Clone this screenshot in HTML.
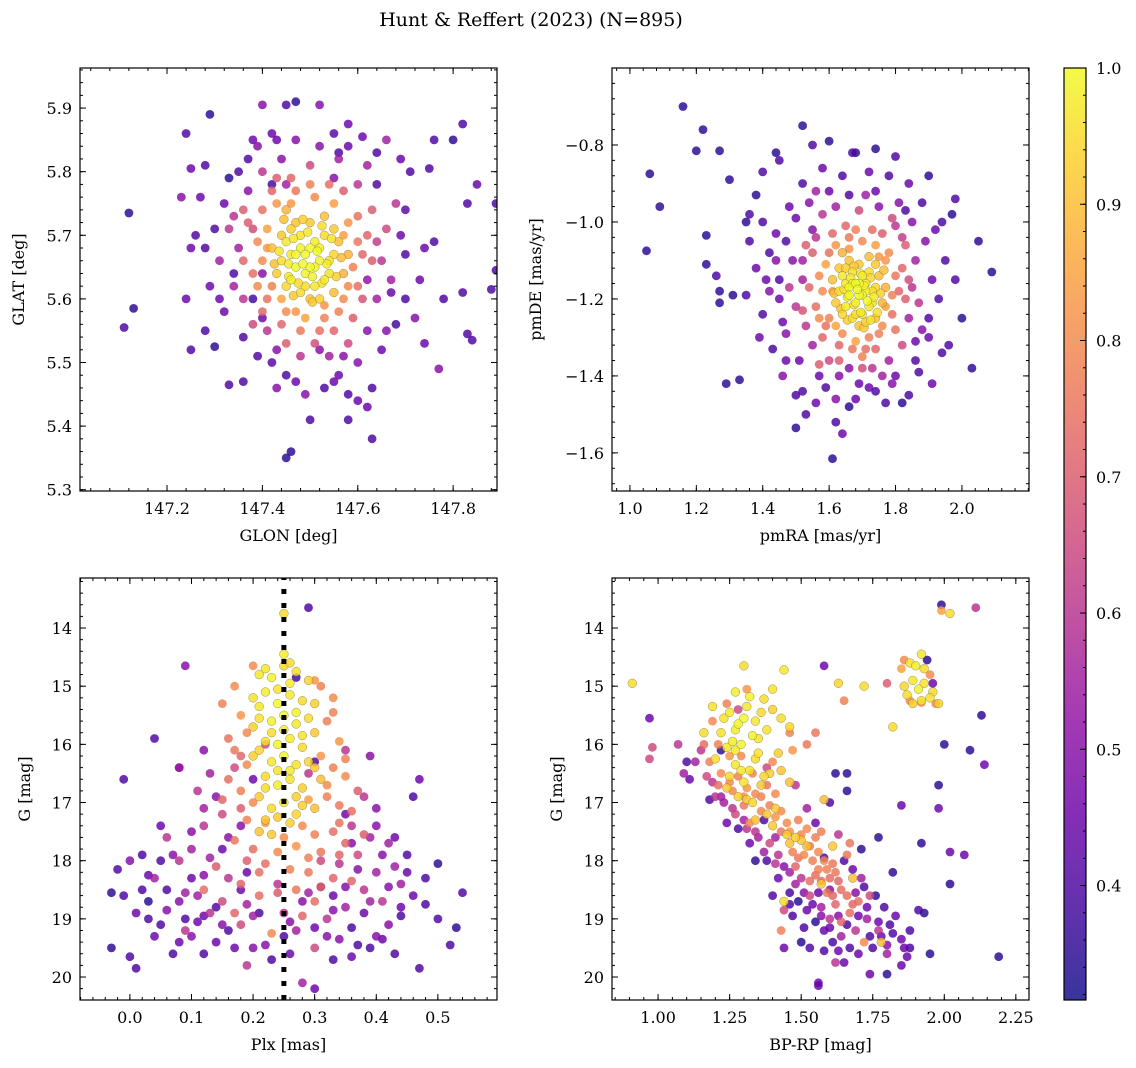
<!DOCTYPE html>
<html><head><meta charset="utf-8"><style>
html,body{margin:0;padding:0;background:#fff;}
svg{display:block;font-family:"DejaVu Serif","Liberation Serif",serif;}
</style></head><body>
<svg id="fig" width="1136" height="1068" viewBox="0 0 1136 1068" xmlns="http://www.w3.org/2000/svg">
<text x="531" y="26" font-size="19" text-anchor="middle">Hunt &amp; Reffert (2023) (N=895)</text>
</svg>
<script>
// ---------- data ----------
const p1Outer=[[147.12,5.735,0.35],[147.13,5.585,0.35],[147.11,5.555,0.4],[147.24,5.86,0.4],[147.25,5.805,0.45],[147.28,5.81,0.4],[147.29,5.89,0.35],[147.23,5.76,0.5],[147.26,5.70,0.4],[147.25,5.68,0.45],[147.24,5.60,0.45],[147.25,5.52,0.4],[147.28,5.55,0.4],[147.30,5.525,0.35],[147.33,5.465,0.4],[147.30,5.71,0.4],[147.33,5.79,0.35],[147.40,5.905,0.5],[147.45,5.905,0.4],[147.47,5.91,0.35],[147.52,5.905,0.5],[147.43,5.85,0.45],[147.38,5.85,0.45],[147.58,5.875,0.45],[147.61,5.855,0.45],[147.56,5.83,0.4],[147.66,5.85,0.55],[147.69,5.82,0.45],[147.75,5.805,0.4],[147.76,5.85,0.4],[147.82,5.875,0.4],[147.80,5.85,0.35],[147.83,5.75,0.4],[147.89,5.75,0.4],[147.85,5.78,0.45],[147.89,5.645,0.4],[147.88,5.615,0.4],[147.82,5.61,0.4],[147.83,5.545,0.4],[147.84,5.535,0.4],[147.78,5.60,0.4],[147.76,5.69,0.4],[147.74,5.68,0.45],[147.77,5.49,0.5],[147.74,5.53,0.45],[147.70,5.67,0.4],[147.72,5.57,0.5],[147.67,5.61,0.45],[147.65,5.52,0.45],[147.63,5.46,0.4],[147.62,5.43,0.45],[147.63,5.38,0.4],[147.58,5.41,0.4],[147.56,5.48,0.45],[147.50,5.41,0.4],[147.46,5.36,0.35],[147.45,5.35,0.35],[147.43,5.46,0.5],[147.45,5.48,0.4],[147.36,5.54,0.4],[147.40,5.57,0.45],[147.52,5.52,0.5],[147.55,5.47,0.45],[147.60,5.50,0.5],[147.34,5.64,0.4],[147.32,5.75,0.45],[147.37,5.82,0.4],[147.42,5.78,0.38],[147.55,5.86,0.42],[147.64,5.78,0.4],[147.70,5.74,0.42],[147.68,5.56,0.38],[147.58,5.45,0.4],[147.42,5.50,0.42],[147.38,5.60,0.38],[147.29,5.62,0.45]];
const p1Mid=[[147.35,5.68,0.55],[147.36,5.60,0.6],[147.37,5.77,0.5],[147.40,5.80,0.6],[147.44,5.82,0.5],[147.50,5.81,0.65],[147.56,5.82,0.55],[147.60,5.78,0.6],[147.63,5.74,0.7],[147.65,5.66,0.6],[147.64,5.60,0.55],[147.62,5.55,0.5],[147.58,5.53,0.65],[147.54,5.51,0.55],[147.48,5.51,0.6],[147.43,5.52,0.5],[147.38,5.56,0.65],[147.34,5.62,0.55],[147.33,5.71,0.6],[147.36,5.74,0.7],[147.66,5.71,0.65],[147.67,5.63,0.55],[147.45,5.53,0.7],[147.52,5.84,0.5],[147.41,5.55,0.6],[147.59,5.57,0.7],[147.62,5.81,0.55],[147.39,5.84,0.5],[147.31,5.66,0.55],[147.68,5.75,0.6]];
const p1Ring=[[147.40,5.66,0.8],[147.41,5.71,0.85],[147.42,5.62,0.78],[147.43,5.75,0.82],[147.45,5.58,0.8],[147.47,5.77,0.76],[147.49,5.57,0.85],[147.51,5.76,0.8],[147.53,5.57,0.78],[147.55,5.75,0.84],[147.57,5.60,0.8],[147.58,5.72,0.82],[147.59,5.65,0.78],[147.60,5.69,0.76],[147.39,5.69,0.8],[147.41,5.60,0.75],[147.44,5.56,0.72],[147.48,5.55,0.76],[147.52,5.55,0.74],[147.56,5.58,0.78],[147.60,5.62,0.74],[147.61,5.67,0.72],[147.38,5.64,0.74],[147.46,5.79,0.72],[147.54,5.78,0.74],[147.57,5.77,0.7],[147.42,5.77,0.72],[147.62,5.70,0.72],[147.37,5.72,0.7],[147.40,5.58,0.72]];
const p1Core=[[147.44,5.66,0.95],[147.45,5.69,0.97],[147.46,5.63,0.98],[147.47,5.67,1.0],[147.48,5.70,0.96],[147.49,5.64,0.99],[147.50,5.68,1.0],[147.51,5.62,0.97],[147.52,5.66,0.99],[147.53,5.70,0.95],[147.54,5.64,0.96],[147.55,5.67,0.94],[147.46,5.71,0.93],[147.48,5.61,0.95],[147.50,5.72,0.92],[147.52,5.60,0.93],[147.43,5.64,0.92],[147.56,5.69,0.9],[147.47,5.65,1.0],[147.49,5.67,1.0],[147.51,5.69,0.98],[147.53,5.63,0.97],[147.45,5.62,0.94],[147.55,5.71,0.92],[147.50,5.65,1.0],[147.48,5.68,0.99],[147.52,5.68,0.98],[147.46,5.67,0.97],[147.54,5.66,0.96],[147.49,5.62,0.95],[147.51,5.65,0.99],[147.47,5.72,0.91],[147.53,5.73,0.9],[147.44,5.70,0.92],[147.57,5.64,0.88],[147.50,5.60,0.9],[147.45,5.74,0.88],[147.55,5.61,0.9],[147.42,5.68,0.9],[147.58,5.67,0.88]];
const p1CoreExtra=[[147.435,5.675,0.96],[147.455,5.655,0.98],[147.465,5.695,0.97],[147.475,5.625,0.95],[147.485,5.655,1.0],[147.495,5.705,0.97],[147.505,5.635,0.99],[147.515,5.675,1.0],[147.525,5.715,0.95],[147.535,5.655,0.98],[147.545,5.695,0.96],[147.555,5.635,0.93],[147.465,5.605,0.92],[147.505,5.595,0.92],[147.445,5.725,0.9],[147.525,5.625,0.96],[147.485,5.725,0.93],[147.425,5.655,0.9],[147.565,5.665,0.9],[147.455,5.635,0.97]];
const p1RingExtra=[[147.39,5.62,0.8],[147.40,5.74,0.75],[147.43,5.79,0.7],[147.47,5.58,0.82],[147.50,5.78,0.78],[147.55,5.55,0.72],[147.58,5.62,0.8],[147.60,5.73,0.75],[147.63,5.66,0.7],[147.36,5.66,0.72],[147.44,5.60,0.85],[147.57,5.70,0.84],[147.41,5.68,0.83],[147.53,5.59,0.82],[147.46,5.75,0.83],[147.61,5.60,0.68],[147.38,5.71,0.66],[147.51,5.53,0.66],[147.34,5.73,0.6],[147.64,5.69,0.62]];
const p1OuterExtra=[[147.32,5.58,0.45],[147.35,5.80,0.4],[147.42,5.86,0.45],[147.47,5.85,0.5],[147.58,5.84,0.45],[147.64,5.83,0.4],[147.69,5.70,0.45],[147.70,5.60,0.4],[147.66,5.55,0.5],[147.60,5.44,0.45],[147.53,5.46,0.4],[147.47,5.47,0.45],[147.39,5.51,0.4],[147.31,5.60,0.45],[147.28,5.68,0.4],[147.27,5.76,0.45],[147.71,5.80,0.4],[147.73,5.63,0.45],[147.36,5.47,0.4],[147.49,5.45,0.5],[147.55,5.79,0.5],[147.45,5.78,0.55],[147.62,5.63,0.52],[147.40,5.64,0.5],[147.57,5.51,0.5]];

const p2Outer=[[1.16,-0.70,0.35],[1.06,-0.875,0.35],[1.09,-0.96,0.35],[1.05,-1.075,0.35],[1.20,-0.815,0.35],[1.22,-0.76,0.35],[1.27,-0.815,0.35],[1.30,-0.89,0.35],[1.23,-1.035,0.35],[1.23,-1.11,0.35],[1.26,-1.14,0.4],[1.27,-1.18,0.35],[1.27,-1.21,0.35],[1.29,-1.42,0.35],[1.33,-1.41,0.35],[1.31,-1.19,0.35],[1.35,-1.19,0.4],[1.35,-1.0,0.35],[1.36,-0.98,0.4],[1.38,-0.93,0.35],[1.40,-0.87,0.4],[1.44,-0.82,0.35],[1.45,-0.84,0.4],[1.52,-0.75,0.35],[1.55,-0.80,0.4],[1.60,-0.79,0.35],[1.67,-0.82,0.4],[1.68,-0.82,0.35],[1.74,-0.81,0.35],[1.80,-0.83,0.4],[1.90,-0.88,0.35],[1.98,-0.94,0.4],[2.05,-1.05,0.35],[2.09,-1.13,0.35],[2.03,-1.38,0.35],[1.94,-1.34,0.4],[1.61,-1.615,0.35],[1.50,-1.535,0.35],[1.52,-1.44,0.4],[1.66,-1.48,0.35],[1.77,-1.47,0.4],[1.82,-1.47,0.35],[1.72,-1.43,0.45],[1.57,-1.40,0.45]];
const p2Scatter=[[1.42,-1.08,0.4],[1.44,-1.03,0.45],[1.45,-1.15,0.4],[1.46,-1.26,0.45],[1.43,-1.33,0.4],[1.47,-1.36,0.45],[1.50,-1.45,0.4],[1.56,-1.47,0.45],[1.62,-1.52,0.4],[1.68,-1.46,0.45],[1.74,-1.44,0.4],[1.80,-1.40,0.45],[1.86,-1.36,0.4],[1.90,-1.30,0.45],[1.93,-1.20,0.4],[1.95,-1.10,0.4],[1.92,-1.02,0.45],[1.88,-0.95,0.4],[1.84,-0.90,0.45],[1.78,-0.88,0.4],[1.72,-0.87,0.45],[1.64,-0.88,0.4],[1.58,-0.86,0.45],[1.52,-0.90,0.4],[1.48,-0.96,0.45],[1.40,-1.00,0.4],[1.38,-1.12,0.45],[1.40,-1.24,0.4],[1.39,-1.30,0.45],[1.98,-1.15,0.4],[2.00,-1.25,0.35],[1.96,-1.32,0.4],[1.91,-1.42,0.45],[1.84,-1.45,0.4],[1.64,-1.55,0.45],[1.53,-1.50,0.4],[1.46,-1.40,0.5],[1.42,-1.18,0.5],[1.36,-1.05,0.4],[1.97,-0.98,0.35]];
const p2Mid=[[1.52,-1.15,0.55],[1.53,-1.27,0.6],[1.55,-1.02,0.5],[1.58,-0.98,0.6],[1.62,-0.96,0.55],[1.69,-0.97,0.65],[1.75,-0.96,0.5],[1.80,-1.01,0.6],[1.83,-1.06,0.7],[1.85,-1.17,0.6],[1.84,-1.25,0.55],[1.82,-1.32,0.65],[1.78,-1.36,0.55],[1.73,-1.38,0.6],[1.66,-1.38,0.5],[1.60,-1.36,0.65],[1.55,-1.32,0.55],[1.50,-1.22,0.6],[1.49,-1.10,0.5],[1.53,-1.06,0.7],[1.86,-1.10,0.55],[1.87,-1.21,0.6],[1.63,-1.40,0.5],[1.71,-0.93,0.55],[1.57,-1.37,0.7],[1.79,-0.99,0.65],[1.81,-0.95,0.5],[1.56,-0.92,0.55],[1.48,-1.17,0.6],[1.88,-1.28,0.5]];
const p2Ring=[[1.58,-1.18,0.8],[1.59,-1.11,0.85],[1.60,-1.25,0.78],[1.62,-1.06,0.82],[1.64,-1.29,0.8],[1.66,-1.04,0.76],[1.68,-1.31,0.85],[1.70,-1.05,0.8],[1.72,-1.30,0.78],[1.74,-1.06,0.84],[1.76,-1.27,0.8],[1.77,-1.10,0.82],[1.79,-1.19,0.78],[1.80,-1.14,0.76],[1.57,-1.14,0.8],[1.59,-1.27,0.75],[1.63,-1.32,0.72],[1.67,-1.33,0.76],[1.71,-1.33,0.74],[1.75,-1.29,0.78],[1.79,-1.24,0.74],[1.81,-1.18,0.72],[1.56,-1.22,0.74],[1.65,-1.01,0.72],[1.73,-1.02,0.74],[1.76,-1.03,0.7],[1.61,-1.03,0.72],[1.82,-1.12,0.72],[1.55,-1.08,0.7],[1.58,-1.30,0.72]];
const p2Core=[[1.63,-1.18,0.95],[1.64,-1.14,0.97],[1.65,-1.22,0.98],[1.66,-1.17,1.0],[1.67,-1.13,0.96],[1.68,-1.21,0.99],[1.69,-1.16,1.0],[1.70,-1.24,0.97],[1.71,-1.18,0.99],[1.72,-1.13,0.95],[1.73,-1.21,0.96],[1.74,-1.17,0.94],[1.65,-1.12,0.93],[1.67,-1.25,0.95],[1.69,-1.11,0.92],[1.71,-1.26,0.93],[1.62,-1.21,0.92],[1.75,-1.14,0.9],[1.66,-1.19,1.0],[1.68,-1.16,1.0],[1.70,-1.14,0.98],[1.72,-1.22,0.97],[1.64,-1.24,0.94],[1.74,-1.11,0.92],[1.69,-1.19,1.0],[1.67,-1.16,0.99],[1.71,-1.16,0.98],[1.65,-1.16,0.97],[1.73,-1.18,0.96],[1.68,-1.24,0.95],[1.70,-1.19,0.99],[1.66,-1.10,0.91],[1.72,-1.09,0.9],[1.63,-1.12,0.92],[1.76,-1.21,0.88],[1.69,-1.27,0.9],[1.64,-1.08,0.88],[1.74,-1.25,0.9],[1.61,-1.15,0.9],[1.77,-1.17,0.88]];
const p2CoreExtra=[[1.645,-1.175,0.96],[1.655,-1.195,0.98],[1.665,-1.145,0.97],[1.675,-1.215,0.95],[1.685,-1.175,1.0],[1.695,-1.235,0.97],[1.705,-1.165,0.99],[1.715,-1.205,1.0],[1.725,-1.145,0.95],[1.735,-1.195,0.98],[1.745,-1.235,0.96],[1.755,-1.185,0.93],[1.675,-1.115,0.92],[1.705,-1.275,0.92],[1.635,-1.225,0.9],[1.725,-1.255,0.96],[1.655,-1.255,0.93],[1.765,-1.125,0.9],[1.615,-1.185,0.9],[1.695,-1.135,0.97]];
const p2RingExtra=[[1.57,-1.25,0.8],[1.60,-1.08,0.75],[1.63,-1.36,0.7],[1.66,-1.07,0.82],[1.70,-1.35,0.78],[1.74,-1.33,0.72],[1.78,-1.08,0.8],[1.80,-1.28,0.75],[1.83,-1.20,0.7],[1.54,-1.17,0.72],[1.62,-1.27,0.85],[1.77,-1.22,0.84],[1.61,-1.18,0.83],[1.75,-1.09,0.82],[1.68,-1.02,0.78],[1.52,-1.23,0.68],[1.84,-1.15,0.66],[1.70,-1.38,0.66],[1.56,-1.04,0.6],[1.82,-1.04,0.62]];
const p2OuterExtra=[[1.45,-1.20,0.45],[1.47,-1.05,0.4],[1.50,-0.99,0.45],[1.54,-0.95,0.5],[1.60,-0.92,0.45],[1.66,-0.93,0.4],[1.74,-0.92,0.45],[1.83,-0.97,0.4],[1.89,-1.05,0.5],[1.91,-1.15,0.45],[1.90,-1.25,0.4],[1.86,-1.31,0.45],[1.79,-1.42,0.5],[1.69,-1.42,0.45],[1.59,-1.43,0.4],[1.51,-1.36,0.45],[1.47,-1.29,0.5],[1.94,-1.00,0.4],[1.44,-1.10,0.5],[1.87,-1.39,0.4],[1.62,-1.46,0.5],[1.76,-1.40,0.55],[1.52,-1.10,0.55],[1.85,-1.00,0.5],[1.41,-1.15,0.45]];

const p3Purple=[[-0.01,16.6,0.4],[0.09,14.65,0.5],[0.29,13.65,0.4],[0.27,14.85,0.38],[0.04,15.9,0.4],[0.08,16.4,0.45],[0.12,16.1,0.5],[0.46,16.9,0.4],[0.47,16.6,0.45],[0.39,16.2,0.5],[0.05,17.4,0.45],[0.02,17.9,0.4],[0.00,18.0,0.5],[-0.02,18.15,0.4],[-0.03,18.55,0.35],[-0.01,18.6,0.4],[0.01,18.9,0.45],[0.03,18.7,0.35],[0.05,19.1,0.4],[-0.03,19.5,0.35],[0.0,19.65,0.4],[0.01,19.85,0.4],[0.04,19.3,0.45],[0.07,19.6,0.4],[0.10,19.3,0.5],[0.12,19.6,0.4],[0.14,19.4,0.45],[0.16,19.2,0.4],[0.20,19.5,0.5],[0.23,19.7,0.4],[0.26,19.6,0.45],[0.30,20.2,0.45],[0.33,19.7,0.4],[0.36,19.65,0.45],[0.40,19.3,0.5],[0.43,19.6,0.4],[0.47,19.85,0.4],[0.52,19.45,0.4],[0.53,19.15,0.35],[0.54,18.55,0.4],[0.50,18.05,0.35],[0.48,18.3,0.4],[0.46,18.6,0.45],[0.44,18.95,0.4],[0.42,19.1,0.5],[0.45,17.9,0.4],[0.43,17.6,0.45],[0.41,17.9,0.5],[0.38,18.9,0.45],[0.36,19.15,0.4],[0.34,19.35,0.5],[0.30,19.15,0.45],[0.28,18.7,0.5],[0.18,18.5,0.45],[0.14,18.8,0.4],[0.10,18.3,0.45],[0.08,18.7,0.5],[0.06,18.5,0.4],[0.03,18.25,0.45],[0.07,17.9,0.5],[0.19,18.2,0.45],[0.21,18.9,0.4],[0.33,18.6,0.45],[0.37,18.15,0.5],[0.15,17.8,0.45],[0.18,17.4,0.5],[0.35,17.2,0.45],[0.40,17.1,0.5],[0.30,16.3,0.4],[0.20,16.6,0.45],[0.14,16.9,0.5],[0.44,18.8,0.45],[0.09,19.0,0.4],[0.12,18.95,0.45],[0.39,19.5,0.4],[0.31,18.45,0.45],[0.25,19.3,0.4],[0.05,18.0,0.4]];
const p3Pink=[[0.11,16.8,0.6],[0.13,16.5,0.55],[0.15,17.2,0.65],[0.12,17.4,0.6],[0.10,17.8,0.55],[0.08,18.0,0.6],[0.14,18.1,0.7],[0.16,18.3,0.6],[0.11,18.6,0.55],[0.13,18.9,0.6],[0.18,19.1,0.65],[0.20,18.95,0.55],[0.25,18.9,0.6],[0.27,19.2,0.55],[0.32,19.0,0.6],[0.35,18.8,0.55],[0.38,18.5,0.6],[0.40,18.2,0.55],[0.37,17.9,0.65],[0.34,18.05,0.6],[0.39,17.6,0.55],[0.36,17.4,0.6],[0.42,17.7,0.55],[0.41,18.7,0.6],[0.44,18.4,0.55],[0.06,17.6,0.6],[0.04,18.3,0.55],[0.09,19.2,0.6],[0.30,19.5,0.65],[0.19,19.8,0.6],[0.28,20.1,0.55],[0.17,16.4,0.65],[0.35,16.1,0.6],[0.29,16.5,0.6],[0.22,16.0,0.65],[0.38,16.9,0.6],[0.15,18.7,0.65],[0.24,18.4,0.6],[0.31,18.0,0.65],[0.08,16.4,0.55]];
const p3Orange=[[0.20,14.65,0.8],[0.30,14.9,0.82],[0.31,15.0,0.78],[0.33,15.2,0.8],[0.15,15.3,0.78],[0.18,15.5,0.82],[0.19,15.8,0.8],[0.32,15.6,0.78],[0.34,15.95,0.82],[0.17,16.1,0.76],[0.19,16.35,0.8],[0.31,16.2,0.82],[0.33,16.4,0.78],[0.35,16.55,0.8],[0.16,16.6,0.74],[0.18,16.8,0.78],[0.20,17.0,0.8],[0.29,16.95,0.84],[0.32,16.9,0.78],[0.34,17.05,0.76],[0.36,17.15,0.74],[0.19,17.3,0.78],[0.22,17.35,0.82],[0.28,17.4,0.8],[0.30,17.55,0.78],[0.33,17.5,0.74],[0.17,17.65,0.76],[0.20,17.8,0.74],[0.24,17.85,0.8],[0.27,17.75,0.82],[0.31,17.85,0.76],[0.35,17.7,0.72],[0.22,18.05,0.74],[0.26,18.15,0.78],[0.29,18.2,0.76],[0.33,18.3,0.72],[0.18,18.4,0.72],[0.21,18.6,0.74],[0.27,18.5,0.76],[0.36,18.35,0.72],[0.30,18.7,0.74],[0.23,19.25,0.8],[0.12,18.5,0.74]];
const p3Yellow=[[0.25,13.75,0.95],[0.25,14.45,0.98],[0.25,14.65,0.95],[0.21,14.8,0.97],[0.23,14.85,0.99],[0.27,14.75,0.96],[0.29,14.9,0.94],[0.20,15.2,0.96],[0.22,15.1,0.98],[0.24,15.3,1.0],[0.26,15.15,0.97],[0.28,15.25,0.95],[0.30,15.3,0.93],[0.21,15.55,0.96],[0.23,15.6,0.99],[0.25,15.5,1.0],[0.27,15.65,0.97],[0.29,15.55,0.95],[0.22,15.95,0.96],[0.24,16.0,0.99],[0.26,15.9,0.98],[0.28,16.05,0.95],[0.20,16.2,0.93],[0.23,16.3,0.97],[0.25,16.2,0.99],[0.27,16.35,0.96],[0.30,16.4,0.92],[0.31,16.6,0.9],[0.22,16.55,0.95],[0.24,16.7,0.98],[0.26,16.6,0.96],[0.28,16.75,0.93],[0.21,16.9,0.92],[0.25,17.0,0.97],[0.27,17.2,0.94],[0.23,17.1,0.95],[0.26,17.35,0.93],[0.21,17.5,0.91],[0.23,17.55,0.92],[0.30,17.1,0.9]];
const p3YellowExtra=[[0.22,14.7,0.97],[0.26,14.95,0.98],[0.24,15.05,0.96],[0.21,15.35,0.97],[0.27,15.45,0.99],[0.25,15.75,0.98],[0.23,15.8,0.95],[0.28,15.85,0.96],[0.21,16.1,0.94],[0.26,16.45,0.97],[0.24,16.45,0.96],[0.22,16.75,0.95],[0.29,16.3,0.94],[0.27,16.9,0.93],[0.24,17.25,0.92],[0.28,17.05,0.93],[0.22,17.3,0.91],[0.20,15.7,0.93],[0.30,15.8,0.92],[0.26,14.6,0.95]];
const p3OrangeExtra=[[0.17,15.0,0.8],[0.33,15.45,0.78],[0.16,15.9,0.75],[0.35,16.25,0.78],[0.18,16.2,0.72],[0.32,16.7,0.8],[0.37,16.8,0.7],[0.15,16.95,0.72],[0.34,17.35,0.75],[0.18,17.1,0.7],[0.25,17.6,0.8],[0.29,17.95,0.78],[0.21,18.2,0.74],[0.34,17.9,0.72],[0.24,18.55,0.7],[0.31,18.45,0.72],[0.19,18.0,0.7],[0.38,17.55,0.7],[0.28,18.95,0.72],[0.17,18.9,0.72]];
const p3BaseExtra=[[0.06,18.85,0.5],[0.09,18.55,0.55],[0.12,18.25,0.5],[0.13,17.95,0.55],[0.16,17.6,0.5],[0.17,19.5,0.45],[0.22,19.45,0.5],[0.26,19.05,0.5],[0.32,19.3,0.5],[0.35,18.45,0.5],[0.39,18.7,0.55],[0.42,18.45,0.5],[0.45,18.2,0.45],[0.48,18.75,0.4],[0.50,19.0,0.4],[0.41,19.35,0.45],[0.37,19.45,0.4],[0.11,19.05,0.45],[0.03,19.0,0.4],[0.08,19.4,0.45],[0.15,19.1,0.5],[0.19,18.75,0.55],[0.33,18.85,0.5],[0.29,18.55,0.55],[0.36,17.7,0.5],[0.10,17.5,0.5],[0.12,17.1,0.55],[0.40,17.4,0.5],[0.43,18.1,0.55],[0.02,18.5,0.4]];

const p4Purple=[[0.97,15.55,0.45],[1.10,16.3,0.4],[1.11,16.6,0.45],[1.18,16.95,0.4],[1.24,17.35,0.45],[1.28,17.45,0.4],[1.32,17.7,0.45],[1.38,18.0,0.4],[1.34,18.0,0.35],[1.42,18.3,0.45],[1.46,18.55,0.4],[1.49,18.7,0.35],[1.52,18.85,0.45],[1.47,18.95,0.4],[1.55,19.05,0.35],[1.58,19.2,0.45],[1.61,19.4,0.4],[1.50,19.4,0.35],[1.53,19.5,0.4],[1.63,19.55,0.45],[1.67,19.5,0.4],[1.70,19.6,0.45],[1.75,19.5,0.4],[1.78,19.3,0.45],[1.81,19.1,0.4],[1.85,19.35,0.45],[1.88,19.2,0.4],[1.83,18.95,0.45],[1.79,18.8,0.4],[1.76,18.6,0.35],[1.72,18.45,0.4],[1.68,18.15,0.45],[1.65,18.0,0.4],[1.71,17.8,0.35],[1.58,17.95,0.4],[1.55,17.35,0.45],[1.60,17.0,0.4],[1.66,16.5,0.35],[1.66,16.8,0.35],[1.58,14.65,0.45],[1.62,16.5,0.35],[2.13,15.5,0.35],[2.00,16.0,0.35],[2.09,16.1,0.35],[2.14,16.35,0.45],[1.98,16.7,0.35],[1.85,17.05,0.45],[1.98,17.1,0.45],[1.77,17.6,0.35],[1.92,17.7,0.35],[2.02,17.85,0.45],[2.07,17.9,0.45],[2.02,18.4,0.35],[1.82,18.2,0.35],[1.93,18.9,0.35],[2.19,19.65,0.35],[1.56,20.1,0.45],[1.56,20.15,0.45],[1.95,19.6,0.35],[1.87,19.65,0.45],[1.85,19.8,0.45],[1.80,19.95,0.35],[1.74,19.95,0.45],[1.91,18.85,0.4],[1.44,19.5,0.45],[1.40,18.6,0.4],[1.37,17.3,0.4],[1.22,16.1,0.35],[1.88,19.5,0.4]];
const p4Pink=[[1.15,16.1,0.6],[1.13,16.3,0.55],[1.17,16.55,0.65],[1.20,16.9,0.6],[1.23,17.0,0.55],[1.27,17.2,0.65],[1.31,17.45,0.6],[1.35,17.6,0.55],[1.39,17.7,0.65],[1.42,17.9,0.6],[1.46,18.2,0.55],[1.50,18.3,0.6],[1.53,18.6,0.65],[1.57,18.8,0.55],[1.60,19.0,0.6],[1.64,19.3,0.55],[1.69,19.2,0.6],[1.73,19.0,0.55],[1.77,19.2,0.6],[1.71,18.3,0.55],[1.63,17.55,0.6],[1.52,17.1,0.55],[1.48,16.7,0.6],[1.38,16.4,0.65],[1.28,15.4,0.65],[0.98,16.05,0.65],[0.97,16.25,0.65],[1.07,16.0,0.6],[1.09,16.5,0.55],[1.44,18.85,0.65],[1.62,19.75,0.6],[1.80,19.6,0.55],[1.74,18.6,0.65],[2.11,13.65,0.6]];
const p4Orange=[[1.19,15.6,0.8],[1.24,15.3,0.78],[1.31,15.05,0.82],[1.46,15.8,0.78],[1.52,16.0,0.76],[1.16,16.0,0.74],[1.18,16.3,0.78],[1.22,16.5,0.8],[1.25,16.2,0.82],[1.29,16.2,0.8],[1.33,16.5,0.78],[1.21,16.7,0.74],[1.26,16.8,0.8],[1.31,16.75,0.82],[1.36,16.9,0.78],[1.41,16.85,0.8],[1.30,17.05,0.76],[1.36,17.15,0.8],[1.41,17.25,0.82],[1.45,17.35,0.8],[1.49,17.3,0.78],[1.52,17.45,0.8],[1.55,17.6,0.78],[1.43,17.5,0.76],[1.47,17.85,0.78],[1.51,17.9,0.8],[1.54,18.0,0.78],[1.58,18.0,0.8],[1.61,18.05,0.76],[1.56,18.15,0.78],[1.60,18.3,0.74],[1.63,18.35,0.72],[1.59,18.55,0.76],[1.66,18.6,0.74],[1.62,18.75,0.72],[1.67,18.9,0.74],[1.64,19.05,0.72],[1.70,18.7,0.74],[1.66,17.9,0.76],[1.57,17.5,0.78],[1.53,18.35,0.74],[1.48,18.1,0.72],[1.67,17.7,0.76],[1.43,19.2,0.78],[1.72,19.4,0.8],[1.65,15.25,0.78],[1.55,15.8,0.76],[1.40,16.3,0.8],[1.47,16.1,0.82],[1.32,17.35,0.8],[1.86,14.55,0.8],[1.95,14.8,0.8],[1.85,14.7,0.85],[1.88,15.25,0.8],[1.92,15.28,0.8],[1.80,14.95,0.7],[1.97,15.3,0.8],[1.99,13.7,0.85],[1.94,14.55,0.35],[1.96,14.95,0.45],[1.99,13.6,0.35]];
const p4Yellow=[[1.30,14.65,0.95],[1.44,14.72,0.97],[1.40,15.05,0.96],[1.27,15.10,0.98],[1.32,15.18,0.99],[1.37,15.22,0.95],[1.19,15.35,0.96],[1.25,15.45,0.98],[1.30,15.55,1.0],[1.34,15.6,0.97],[1.28,15.65,0.99],[1.43,15.55,0.95],[1.40,15.4,0.93],[1.22,15.8,0.96],[1.26,15.95,0.98],[1.33,15.85,0.99],[1.38,15.75,0.96],[1.46,15.7,0.94],[1.24,16.05,0.97],[1.29,16.0,0.99],[1.35,16.15,0.96],[1.42,16.15,0.93],[1.20,16.25,0.95],[1.27,16.35,0.97],[1.32,16.45,0.96],[1.39,16.5,0.93],[1.25,16.55,0.94],[1.30,16.65,0.96],[1.36,16.7,0.92],[1.28,16.9,0.93],[1.33,17.0,0.94],[1.38,17.2,0.92],[1.34,17.3,0.9],[1.46,16.65,0.9],[1.40,17.4,0.92],[1.48,17.6,0.93],[1.50,17.65,0.91],[1.46,17.7,0.9],[1.61,17.75,0.92],[1.58,16.95,0.9],[1.72,15.0,0.95],[1.63,14.95,0.94],[1.57,18.4,0.92],[1.44,18.7,0.95],[1.68,18.3,0.9],[1.78,19.4,0.9],[0.91,14.95,0.95],[1.16,15.8,0.95],[1.88,14.6,0.96],[1.92,14.45,0.97],[1.90,14.65,0.98],[1.93,14.7,0.95],[1.89,14.9,0.97],[1.91,15.05,0.99],[1.93,14.95,0.96],[1.87,15.15,0.95],[1.95,15.2,0.96],[1.98,15.3,0.94],[1.96,15.1,0.95],[1.89,15.3,0.93],[1.92,15.25,0.97],[1.86,15.0,0.94],[1.82,15.7,0.95],[2.02,13.75,0.95]];
const p4YellowExtra=[[1.23,15.55,0.96],[1.27,15.75,0.98],[1.31,15.35,0.97],[1.35,15.9,0.96],[1.29,16.45,0.97],[1.34,16.25,0.95],[1.37,16.55,0.94],[1.31,16.95,0.93],[1.41,17.1,0.92],[1.45,17.55,0.92],[1.24,16.75,0.92],[1.36,15.45,0.95],[1.27,16.1,0.97],[1.52,17.75,0.9],[1.43,16.45,0.91]];
const p4OrangeExtra=[[1.21,16.0,0.78],[1.25,16.65,0.8],[1.30,16.9,0.82],[1.34,16.85,0.8],[1.39,17.05,0.78],[1.43,17.15,0.8],[1.46,17.5,0.82],[1.50,17.55,0.8],[1.53,17.75,0.78],[1.56,17.85,0.8],[1.59,18.15,0.78],[1.62,18.2,0.76],[1.57,18.35,0.74],[1.64,18.5,0.74],[1.61,18.6,0.72],[1.68,18.75,0.72],[1.49,17.95,0.76],[1.55,18.25,0.74],[1.38,16.7,0.76],[1.28,16.55,0.78]];
const p4PurpleExtra=[[1.19,16.65,0.6],[1.22,16.9,0.55],[1.26,17.1,0.6],[1.30,17.3,0.55],[1.34,17.5,0.6],[1.37,17.85,0.55],[1.41,18.05,0.6],[1.44,18.1,0.5],[1.48,18.4,0.55],[1.51,18.55,0.5],[1.54,18.75,0.45],[1.57,18.95,0.5],[1.60,19.15,0.45],[1.63,18.95,0.5],[1.66,19.1,0.4],[1.70,18.95,0.45],[1.74,19.3,0.4],[1.77,19.05,0.45],[1.80,19.45,0.5],[1.82,19.25,0.4],[1.69,18.55,0.5],[1.73,18.8,0.45],[1.60,18.5,0.5],[1.56,18.55,0.45],[1.46,18.75,0.4],[1.51,19.15,0.4],[1.58,19.55,0.4],[1.65,19.75,0.45],[1.86,19.5,0.45],[1.41,17.6,0.55]];

// ---------- tick labels ----------
const p1XTicks=[147.2,147.4,147.6,147.8];
const p1YTicks=[5.3,5.4,5.5,5.6,5.7,5.8,5.9];
const p2XTicks=[1.0,1.2,1.4,1.6,1.8,2.0];
const p2YTicks=[-0.8,-1.0,-1.2,-1.4,-1.6];
const p3XTicks=[0.0,0.1,0.2,0.3,0.4,0.5];
const p4XTicks=[1.00,1.25,1.50,1.75,2.00,2.25];
const gYTicks=[14,15,16,17,18,19,20];
const cbTicks=[0.4,0.5,0.6,0.7,0.8,0.9,1.0];
const plxLine=[0.25];
const cbRange=[0.316,1.0];

// ---------- helpers ----------
const NS="http://www.w3.org/2000/svg";
const svg=document.getElementById('fig');
function mk(tag,attrs,parent){const e=document.createElementNS(NS,tag);for(const k in attrs)e.setAttribute(k,attrs[k]);(parent||svg).appendChild(e);return e;}
const stops=[[0,13,8,135],[0.1,65,4,157],[0.2,106,0,168],[0.3,143,13,164],[0.4,177,42,144],[0.5,204,71,120],[0.6,225,100,98],[0.7,242,132,75],[0.8,252,166,54],[0.9,252,206,37],[1,240,249,33]];
function plasma(t){t=Math.max(0,Math.min(1,t));for(let i=1;i<stops.length;i++){if(t<=stops[i][0]){const a=stops[i-1],b=stops[i],f=(t-a[0])/(b[0]-a[0]);return `rgb(${Math.round(a[1]+f*(b[1]-a[1]))},${Math.round(a[2]+f*(b[2]-a[2]))},${Math.round(a[3]+f*(b[3]-a[3]))})`;}}return 'rgb(240,249,33)';}
function norm(p){return (p-cbRange[0])/(cbRange[1]-cbRange[0]);}
function lin(d0,d1,r0,r1){return v=>r0+(v-d0)/(d1-d0)*(r1-r0);}
function fmt(v,dec){return (v<0?'\u2212':'')+Math.abs(v).toFixed(dec);}

function panel(o){
  const g=mk('g',{});
  
  
  const X=lin(o.xd[0],o.xd[1],o.L,o.R), Y=lin(o.yd[0],o.yd[1],o.B,o.T);
  const clipId='clip-'+o.name;
  const cp=mk('clipPath',{id:clipId},g);mk('rect',{x:o.L,y:o.T,width:o.R-o.L,height:o.B-o.T},cp);
  const pts=[].concat(...o.groups).slice().sort((a,b)=>a[2]-b[2]);
  const pg=mk('g',{'clip-path':`url(#${clipId})`},g);
  
  
  for(const p of pts){
    const c=mk('circle',{cx:X(p[0]).toFixed(1),cy:Y(p[1]).toFixed(1),r:4.4,fill:plasma(norm(p[2])),'fill-opacity':0.82},pg);
    if(p[2]>0.86){c.setAttribute('stroke','#6b6b40');c.setAttribute('stroke-width','0.5');c.setAttribute('stroke-opacity','0.7');}
    
    
  }
  if(o.vline){for(const v of o.vline){const l=mk('line',{x1:X(v),x2:X(v),y1:o.B,y2:o.T,stroke:'#000','stroke-width':5,'stroke-dasharray':'5 9'},g);
    
    }}
  mk('rect',{x:o.L,y:o.T,width:o.R-o.L,height:o.B-o.T,fill:'none',stroke:'#000','stroke-width':1.2},g);
  const tg=mk('g',{stroke:'#000','stroke-width':1},g);
  const xmn=Math.ceil(o.xd[0]/o.xminor-1e-9),xmx=Math.floor(o.xd[1]/o.xminor+1e-9);
  for(let i=xmn;i<=xmx;i++){const x=X(i*o.xminor);mk('line',{x1:x,x2:x,y1:o.B,y2:o.B-3},tg);mk('line',{x1:x,x2:x,y1:o.T,y2:o.T+3},tg);}
  const ymn=Math.ceil(Math.min(o.yd[0],o.yd[1])/o.yminor-1e-9),ymx=Math.floor(Math.max(o.yd[0],o.yd[1])/o.yminor+1e-9);
  for(let i=ymn;i<=ymx;i++){const y=Y(i*o.yminor);mk('line',{x1:o.L,x2:o.L+3,y1:y,y2:y},tg);mk('line',{x1:o.R,x2:o.R-3,y1:y,y2:y},tg);}
  for(const v of o.xt){const x=X(v);mk('line',{x1:x,x2:x,y1:o.B,y2:o.B-6},tg);mk('line',{x1:x,x2:x,y1:o.T,y2:o.T+6},tg);
    const t=mk('text',{x:x,y:o.B+23,'font-size':16,'text-anchor':'middle'},g);t.textContent=fmt(v,o.xdec);
    
    }
  for(const v of o.yt){const y=Y(v);mk('line',{x1:o.L,x2:o.L+6,y1:y,y2:y},tg);mk('line',{x1:o.R,x2:o.R-6,y1:y,y2:y},tg);
    const t=mk('text',{x:o.L-8,y:y+6,'font-size':16,'text-anchor':'end'},g);t.textContent=fmt(v,o.ydec);
    
    }
  const xl=mk('text',{x:(o.L+o.R)/2,y:o.B+50,'font-size':16,'text-anchor':'middle'},g);xl.textContent=o.xlabel;
  
  
  const yl=mk('text',{x:0,y:0,'font-size':16,'text-anchor':'middle',transform:`translate(${o.ylx},${(o.T+o.B)/2}) rotate(-90)`},g);yl.textContent=o.ylabel;
  
  
}

panel({name:'glon-glat-panel',L:80,R:497,T:68,B:491,xd:[147.0175,147.892],yd:[5.298,5.963],xt:p1XTicks,yt:p1YTicks,xminor:0.04,yminor:0.02,xdec:1,ydec:1,xlabel:'GLON [deg]',ylabel:'GLAT [deg]',ylx:24,groups:[p1Outer,p1OuterExtra,p1Mid,p1Ring,p1RingExtra,p1Core,p1CoreExtra]});
panel({name:'proper-motion-panel',L:612,R:1029,T:68,B:491,xd:[0.946,2.202],yd:[-1.699,-0.6],xt:p2XTicks,yt:p2YTicks,xminor:0.04,yminor:0.04,xdec:1,ydec:1,xlabel:'pmRA [mas/yr]',ylabel:'pmDE [mas/yr]',ylx:541,groups:[p2Outer,p2Scatter,p2OuterExtra,p2Mid,p2Ring,p2RingExtra,p2Core,p2CoreExtra]});
panel({name:'parallax-mag-panel',L:80,R:497,T:578,B:1000,xd:[-0.081,0.596],yd:[20.395,13.14],xt:p3XTicks,yt:gYTicks,xminor:0.02,yminor:0.2,xdec:1,ydec:0,xlabel:'Plx [mas]',ylabel:'G [mag]',ylx:30,groups:[p3Purple,p3BaseExtra,p3Pink,p3Orange,p3OrangeExtra,p3Yellow,p3YellowExtra],vline:plxLine});
panel({name:'color-magnitude-panel',L:612,R:1029,T:578,B:1000,xd:[0.839,2.296],yd:[20.395,13.14],xt:p4XTicks,yt:gYTicks,xminor:0.05,yminor:0.2,xdec:2,ydec:0,xlabel:'BP-RP [mag]',ylabel:'G [mag]',ylx:562,groups:[p4Purple,p4PurpleExtra,p4Pink,p4Orange,p4OrangeExtra,p4Yellow,p4YellowExtra]});

// colorbar
(function(){
  const g=mk('g',{});
  
  
  const L=1064,R=1086,T=68,B=1000;
  const defs=mk('defs',{},g);
  const lg=mk('linearGradient',{id:'cbgrad',x1:0,y1:1,x2:0,y2:0},defs);
  for(let i=0;i<=20;i++){mk('stop',{offset:i/20,'stop-color':plasma(i/20)},lg);}
  mk('rect',{x:L,y:T,width:R-L,height:B-T,fill:'url(#cbgrad)','fill-opacity':0.82},g);
  mk('rect',{x:L,y:T,width:R-L,height:B-T,fill:'none',stroke:'#000','stroke-width':1.2},g);
  const Y=lin(cbRange[0],cbRange[1],B,T);
  for(let i=Math.ceil(cbRange[0]/0.02);i<=50;i++){const y=Y(i*0.02);mk('line',{x1:R,x2:R-3,y1:y,y2:y,stroke:'#000'},g);}
  for(const v of cbTicks){const y=Y(v);mk('line',{x1:R,x2:R-6,y1:y,y2:y,stroke:'#000'},g);
    const t=mk('text',{x:R+10,y:y+6,'font-size':16},g);t.textContent=v.toFixed(1);
    
    }
})();
</script>
</body></html>
